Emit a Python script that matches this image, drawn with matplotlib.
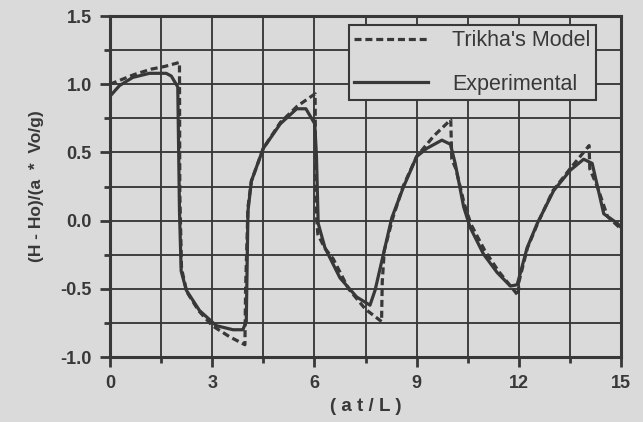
import matplotlib
matplotlib.use("Agg")
import matplotlib.pyplot as plt
import numpy as np

plt.rcParams['font.family'] = ['Liberation Sans', 'DejaVu Sans']

# Trikha's model (dashed)
trikha_x = [0.0, 0.3, 0.7, 1.2, 1.6, 2.04, 2.05, 2.1, 2.25, 2.6, 3.0, 3.5, 3.96,
            3.98, 4.05, 4.15, 4.5, 5.0, 5.5, 6.02, 6.04, 6.1, 6.3, 6.55, 7.0, 7.5,
            7.97, 7.99, 8.05, 8.3, 8.6, 9.0, 9.5, 10.0, 10.03, 10.15, 10.4, 10.6,
            11.0, 11.4, 11.98, 12.0, 12.25, 12.55, 13.0, 13.5, 14.06, 14.08, 14.3,
            14.6, 14.95]
trikha_y = [1.0, 1.03, 1.07, 1.11, 1.13, 1.16, 0.2, -0.35, -0.52, -0.66, -0.77,
            -0.85, -0.91, -0.5, 0.1, 0.29, 0.53, 0.72, 0.84, 0.93, 0.1, -0.1, -0.2,
            -0.28, -0.5, -0.65, -0.74, -0.45, -0.22, 0.02, 0.25, 0.47, 0.62, 0.74,
            0.45, 0.38, 0.12, -0.03, -0.22, -0.37, -0.55, -0.45, -0.2, -0.02, 0.22,
            0.38, 0.55, 0.38, 0.25, 0.03, -0.05]

# Experimental (solid)
exp_x = [0.03, 0.28, 0.67, 1.16, 1.65, 1.8, 1.99, 2.04, 2.09, 2.24, 2.63, 3.12,
         3.61, 3.9, 4.0, 4.05, 4.15, 4.5, 5.0, 5.48, 5.75, 6.01, 6.06, 6.11, 6.31,
         6.75, 7.24, 7.63, 7.78, 8.02, 8.27, 8.61, 9.0, 9.3, 9.74, 9.99, 10.13,
         10.38, 10.57, 10.96, 11.36, 11.75, 11.95, 12.24, 12.54, 13.02, 13.51,
         13.9, 14.15, 14.49, 14.89, 15.0]
exp_y = [0.92, 0.99, 1.05, 1.08, 1.08, 1.06, 0.98, 0.07, -0.37, -0.51, -0.66,
         -0.77, -0.80, -0.80, -0.74, 0.07, 0.29, 0.53, 0.71, 0.82, 0.82, 0.71,
         0.47, -0.02, -0.20, -0.42, -0.56, -0.62, -0.51, -0.25, 0.02, 0.245, 0.47,
         0.53, 0.59, 0.56, 0.42, 0.10, -0.05, -0.245, -0.38, -0.48, -0.47, -0.20,
         -0.02, 0.22, 0.37, 0.45, 0.42, 0.05, -0.02, -0.05]

x_ticks = [0, 3, 6, 9, 12, 15]
y_ticks = [-1.0, -0.5, 0.0, 0.5, 1.0, 1.5]
y_tick_labels = ['-1.0', '-0.5', '0.0', '0.5', '1.0', '1.5']

bg = '#dadada'
ink = '#383838'

fig = plt.figure(figsize=(6.43, 4.22), dpi=100, facecolor=bg)
ax = fig.add_axes([0.171, 0.154, 0.795, 0.808], facecolor=bg)

ax.plot(trikha_x, trikha_y, color=ink, lw=2.3, ls=(0, (2.2, 1.2)), label="Trikha's Model")
ax.plot(exp_x, exp_y, color=ink, lw=2.3, ls='-', label='Experimental')

ax.set_xlim(0, 15)
ax.set_ylim(-1.0, 1.5)
ax.set_xticks(np.arange(0, 15.01, 1.5), minor=True)
ax.set_yticks(np.arange(-1.0, 1.501, 0.25), minor=True)
ax.set_xticks(x_ticks)
ax.set_xticklabels([str(t) for t in x_ticks])
ax.set_yticks(y_ticks)
ax.set_yticklabels(y_tick_labels)
ax.grid(True, which='both', color=ink, lw=1.35)
ax.set_axisbelow(True)
ax.tick_params(which='major', direction='out', length=7, width=2, color=ink,
               labelsize=13, labelcolor=ink, pad=6)
ax.tick_params(which='minor', direction='out', length=4, width=2, color=ink)
for lbl in ax.get_xticklabels() + ax.get_yticklabels():
    lbl.set_fontweight('bold')
for s in ax.spines.values():
    s.set_color(ink)
    s.set_linewidth(2.2)

ax.set_xlabel('( a t / L )', fontsize=13.5, fontweight='bold', color=ink, labelpad=4)
ax.set_ylabel('(H - Ho)/(a  *  Vo/g)', fontsize=12.5, fontweight='bold', color=ink, labelpad=12)

leg = ax.legend(loc='upper right', bbox_to_anchor=(0.951, 0.974), borderaxespad=0,
                fontsize=15.5, frameon=True, fancybox=False, handlelength=3.4,
                handletextpad=1.15, labelspacing=1.05, borderpad=0.25, labelcolor=ink)
leg.get_frame().set_facecolor(bg)
leg.get_frame().set_edgecolor(ink)
leg.get_frame().set_linewidth(1.5)
leg.get_frame().set_alpha(1)

fig.savefig('out.png', dpi=100, facecolor=bg)
